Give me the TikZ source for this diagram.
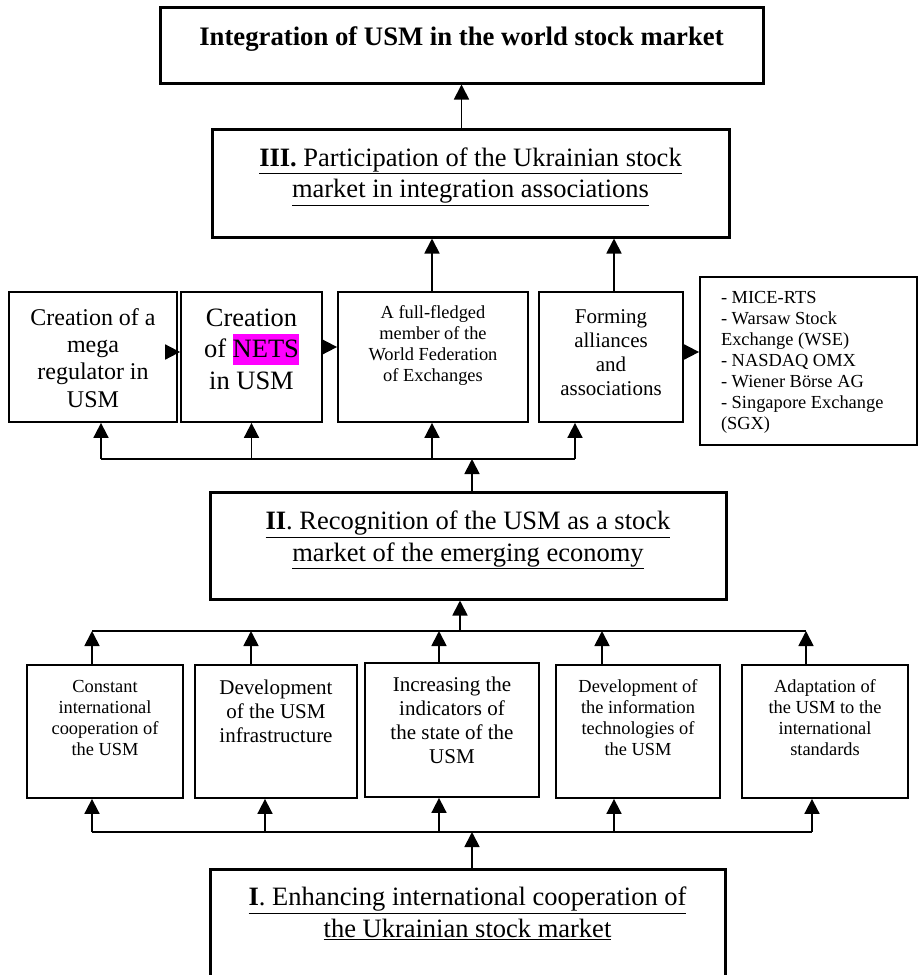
\documentclass[tikz,border=0pt]{standalone}
\usepackage{fontspec}
\setmainfont{Liberation Serif}
\usetikzlibrary{arrows.meta}
\setlength{\fboxsep}{0pt}
\definecolor{hilite}{RGB}{255,0,255}

\begin{document}
\begin{tikzpicture}[x=1pt, y=-1pt,
  tbox/.style n args={3}{draw, line width=1.8pt, inner sep=0pt,
    execute at begin node={\begin{minipage}[c][#2pt][t]{#1pt}\centering\vspace*{#3pt}},
    execute at end node={\end{minipage}}},
  thickbox/.style={line width=3pt},
  bus/.style={line width=1.8pt},
  arr/.style={line width=1.8pt, -{Triangle[length=15pt,width=15pt]}},
  fsmall/.style={font=\fontsize{18.4}{21}\selectfont},
  fmid/.style={font=\fontsize{21}{24}\selectfont},
  fbig/.style={font=\fontsize{24}{27.2}\selectfont},
  fhuge/.style={font=\fontsize{26.5}{31.4}\selectfont}]

\useasboundingbox (0,0) rectangle (918,975);

\node[tbox={603}{76}{20}, thickbox, font=\fontsize{26.7}{30}\selectfont\bfseries] (top) at (461.5,45) {Integration of USM in the world stock market};

\node[tbox={517}{108}{18.6}, thickbox, fhuge] (part) at (470.5,183) {\underline{\textbf{III.} Participation of the Ukrainian stock}\\\underline{market in integration associations}};

\node[tbox={168}{130}{16.6}, fbig] (mega) at (93,357) {Creation of a\\mega\\regulator in\\USM};
\node[tbox={141}{130}{17}, fhuge] (nets) at (251.5,357) {Creation\\of \colorbox{hilite}{\rule[-6.7pt]{0pt}{30.7pt}NETS}\\in USM};
\node[tbox={190}{130}{13.8}, fsmall] (wfe) at (433,357) {A full-fledged\\member of the\\World Federation\\of Exchanges};
\node[tbox={144}{130}{17.3}, fmid] (forming) at (611,357) {Forming\\alliances\\and\\associations};
\node[tbox={217}{168}{14.1}, fsmall] (list) at (808.5,361) {\raggedright\leftskip=21pt\relax - MICE-RTS\\- Warsaw Stock\\Exchange (WSE)\\- NASDAQ OMX\\- Wiener Börse AG\\- Singapore Exchange\\(SGX)\par};

\node[tbox={516}{107}{19}, thickbox, fhuge] (recog) at (468,545.5) {\underline{\textbf{II}. Recognition of the USM as a stock}\\\underline{market of the emerging economy}};

\node[tbox={156}{133}{14.9}, fsmall] (coop) at (105,731.5) {Constant\\international\\cooperation of\\the USM};
\node[tbox={162}{133}{14.9}, fmid] (infra) at (276,731.5) {Development\\of the USM\\infrastructure};
\node[tbox={174}{134}{14.2}, fmid] (indic) at (452,730) {Increasing the\\indicators of\\the state of the\\USM};
\node[tbox={164}{133}{14.8}, fsmall] (it) at (638,731.5) {Development of\\the information\\technologies of\\the USM};
\node[tbox={166}{133}{14.8}, fsmall] (adapt) at (825,731.5) {Adaptation of\\the USM to the\\international\\standards};

\node[tbox={515}{115}{18}, thickbox, fhuge] (enh) at (467.5,926.5) {\underline{\textbf{I}. Enhancing international cooperation of}\\\underline{the Ukrainian stock market}};

\draw[arr] (part.north -| top.south) -- (top.south);
\draw[arr] ([xshift=-1]wfe.north) -- ([xshift=-1]wfe.north |- part.south);
\draw[arr] ([xshift=3]forming.north) -- ([xshift=3]forming.north |- part.south);

\draw[arr] ([yshift=5]mega.east) -- ([yshift=5]nets.west);
\draw[arr] ([yshift=10]nets.east) -- ([yshift=10]wfe.west);
\draw[arr] ([yshift=5]forming.east) -- ([yshift=5]forming.east -| list.west);

\coordinate (midbus) at (472,459);
\draw[arr] (midbus |- recog.north) -- (midbus);
\draw[bus] ([xshift=8]mega.south |- midbus) -- ([xshift=-36]forming.south |- midbus);
\foreach \nd/\dx in {mega/8, nets/0, wfe/-1, forming/-36}
  \draw[arr] ([xshift=\dx]\nd.south |- midbus) -- ([xshift=\dx]\nd.south);

\coordinate (upbus) at (460,631);
\draw[arr] (upbus) -- (upbus |- recog.south);
\draw[bus] ([xshift=-13]coop.north |- upbus) -- ([xshift=-19]adapt.north |- upbus);
\foreach \nd/\dx in {coop/-13, infra/-25, indic/-13, it/-36, adapt/-19}
  \draw[arr] ([xshift=\dx]\nd.north) -- ([xshift=\dx]\nd.north |- upbus);

\coordinate (lowbus) at (472,832);
\draw[arr] (lowbus |- enh.north) -- (lowbus);
\draw[bus] ([xshift=-13]coop.south |- lowbus) -- ([xshift=-13]adapt.south |- lowbus);
\foreach \nd/\dx in {coop/-13, infra/-11, indic/-13, it/-24, adapt/-13}
  \draw[arr] ([xshift=\dx]\nd.south |- lowbus) -- ([xshift=\dx]\nd.south);

\end{tikzpicture}
\end{document}
